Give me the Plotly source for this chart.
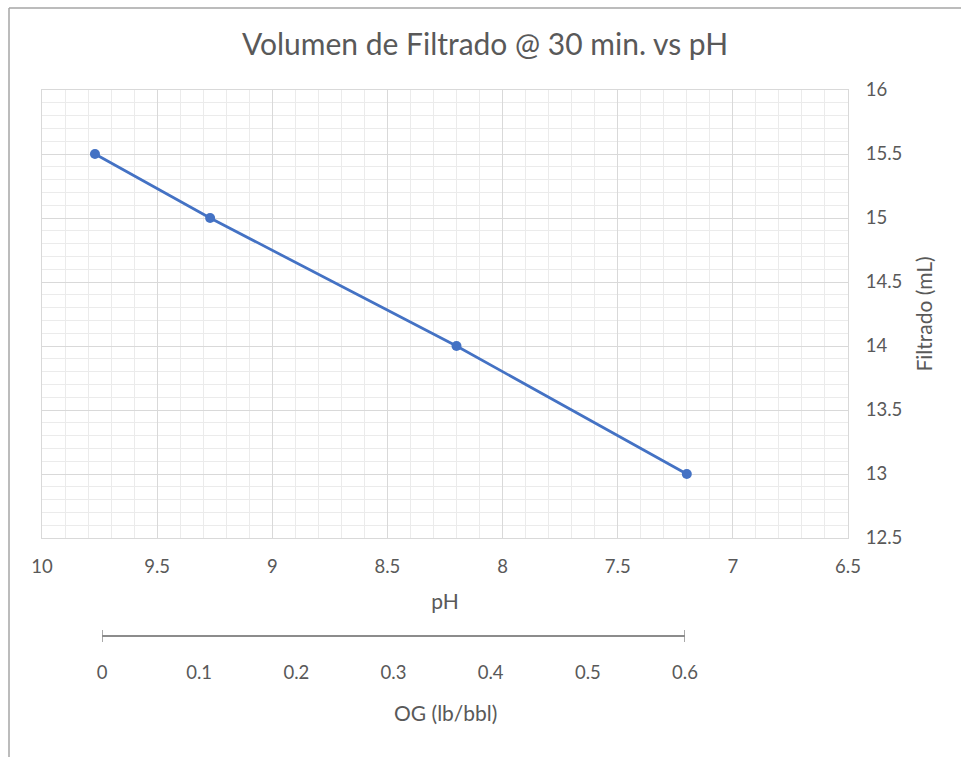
import plotly.graph_objects as go

# Data
ph = [9.77, 9.27, 8.2, 7.2]
filtrado = [15.5, 15.0, 14.0, 13.0]
og_ticks = [0, 0.1, 0.2, 0.3, 0.4, 0.5, 0.6]

W, H = 961, 757
L, R, T, B = 42, 113, 90, 121  # margins (px)
PW, PH = W - L - R, H - T - B


def px(x):
    return (x - L) / PW


def py(y):
    return (H - B - y) / PH


FONT = "Lato"
GREY = "#595959"
BLUE = "#4472C4"
TICK = 18.5
AXT = 21

fig = go.Figure()

fig.add_trace(go.Scatter(
    x=ph, y=filtrado, mode="lines+markers",
    line=dict(color=BLUE, width=2.75),
    marker=dict(color=BLUE, size=10),
    xaxis="x", yaxis="y", showlegend=False,
))

# Carrier trace so the OG axis is drawn
fig.add_trace(go.Scatter(
    x=[og_ticks[0], og_ticks[-1]], y=[0, 0], mode="markers",
    marker=dict(opacity=0), hoverinfo="skip",
    xaxis="x2", yaxis="y2", showlegend=False,
))

fig.update_layout(
    width=W, height=H,
    margin=dict(l=L, r=R, t=T, b=B),
    paper_bgcolor="white", plot_bgcolor="white",
    font=dict(family=FONT, color=GREY, size=TICK),
    title=dict(text="Volumen de Filtrado @ 30 min. vs pH",
               font=dict(family=FONT, size=30, color=GREY),
               x=485 / W, xref="container", xanchor="center",
               y=1 - 44 / H, yref="container", yanchor="middle"),
    xaxis=dict(
        domain=[0, 1], range=[10, 6.5], anchor="y",
        dtick=0.5, tick0=10,
        showgrid=True, gridcolor="#d9d9d9", gridwidth=1,
        minor=dict(dtick=0.1, showgrid=True, gridcolor="#ebebeb", gridwidth=1),
        showline=True, linecolor="#d9d9d9", mirror=True,
        zeroline=False,
        ticks="outside", ticklen=12, tickcolor="rgba(0,0,0,0)",
        tickfont=dict(size=TICK, color=GREY),
        title=dict(text="pH", font=dict(size=AXT, color=GREY), standoff=18),
    ),
    yaxis=dict(
        domain=[py(538), 1], range=[12.5, 16], anchor="x", side="right",
        dtick=0.5, tick0=12.5,
        showgrid=True, gridcolor="#d9d9d9", gridwidth=1,
        minor=dict(dtick=0.1, showgrid=True, gridcolor="#ebebeb", gridwidth=1),
        showline=True, linecolor="#d9d9d9", mirror=True,
        zeroline=False,
        ticks="outside", ticklen=13, tickcolor="rgba(0,0,0,0)",
        tickfont=dict(size=TICK, color=GREY),
        title=dict(text="Filtrado (mL)", font=dict(size=AXT, color=GREY), standoff=16),
    ),
    xaxis2=dict(
        domain=[px(102), px(685)], range=[og_ticks[0], og_ticks[-1]],
        anchor="free", position=0,
        tickvals=og_ticks, ticktext=[str(v) for v in og_ticks],
        showgrid=False, zeroline=False,
        showline=True, linecolor="#8c8c8c", linewidth=1.5,
        ticks="outside", ticklen=20, tickcolor="rgba(0,0,0,0)",
        tickfont=dict(size=TICK, color=GREY),
    ),
    yaxis2=dict(domain=[0, 0.01], anchor="x2", visible=False, range=[-1, 1]),
    annotations=[
        dict(text="OG (lb/bbl)", xref="paper", yref="paper",
             x=px(445), y=py(712), xanchor="center", yanchor="middle",
             showarrow=False, font=dict(size=AXT, color=GREY)),
    ],
    shapes=[
        # end marks of the OG axis
        dict(type="line", xref="x2", yref="paper",
             x0=og_ticks[0], x1=og_ticks[0], y0=py(642), y1=py(630),
             line=dict(color="#8c8c8c", width=1.5)),
        dict(type="line", xref="x2", yref="paper",
             x0=og_ticks[-1], x1=og_ticks[-1], y0=py(642), y1=py(630),
             line=dict(color="#8c8c8c", width=1.5)),
        # chart frame
        dict(type="line", xref="paper", yref="paper",
             x0=px(9), x1=px(W + 5), y0=py(8), y1=py(8),
             line=dict(color="#a6a6a6", width=1.5)),
        dict(type="line", xref="paper", yref="paper",
             x0=px(9), x1=px(9), y0=py(8), y1=py(H + 5),
             line=dict(color="#a6a6a6", width=1.5)),
    ],
)

fig.write_html("out.html")
